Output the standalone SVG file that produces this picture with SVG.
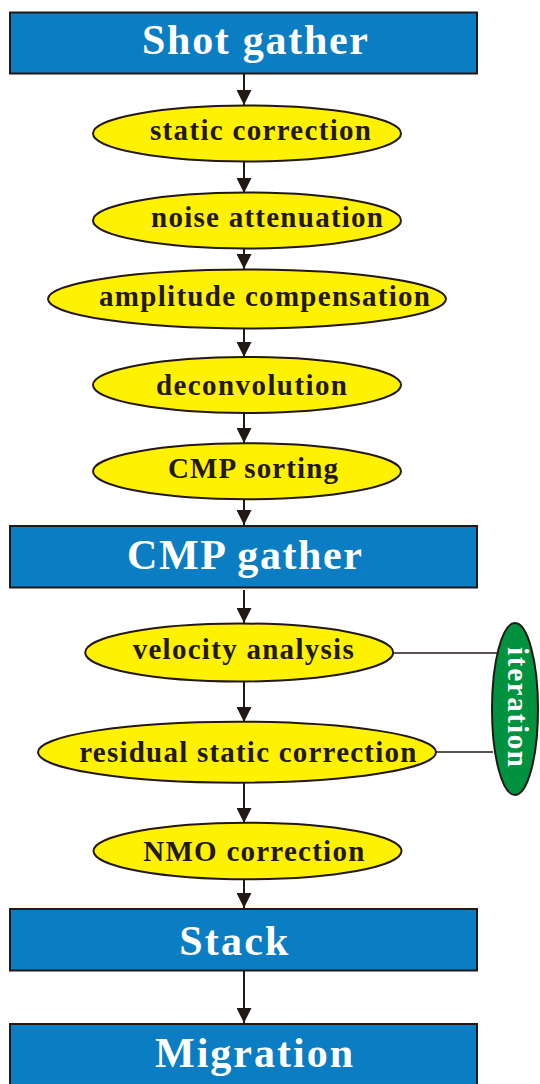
<svg xmlns="http://www.w3.org/2000/svg" width="540" height="1084" viewBox="0 0 540 1084">
  <style>
    .box { fill: #0a7dc3; stroke: #231815; stroke-width: 2; }
    .step { fill: #fff200; stroke: #231815; stroke-width: 2; }
    .loop { fill: #00923f; stroke: #231815; stroke-width: 2; }
    .boxText { font-family: "Liberation Serif", "Times New Roman", serif; font-weight: bold; font-size: 42px; fill: #ffffff; }
    .stepText { font-family: "Liberation Serif", "Times New Roman", serif; font-weight: bold; font-size: 29px; fill: #231815; }
    .loopText { font-family: "Liberation Serif", "Times New Roman", serif; font-weight: bold; font-size: 29px; fill: #ffffff; }
    .flow { fill: none; stroke: #231815; stroke-width: 2; marker-end: url(#arrow); }
    .tie { fill: none; stroke: #231815; stroke-width: 1.5; }
  </style>
  <defs>
    <marker id="arrow" viewBox="0 0 15 15" refX="15" refY="7.5" markerWidth="15" markerHeight="15" markerUnits="userSpaceOnUse" orient="auto">
      <path d="M0,0 L15,7.5 L0,15 Z" fill="#231815"/>
    </marker>
  </defs>

  <rect width="540" height="1084" fill="#ffffff"/>

  <!-- connectors -->
  <g id="connectors">
    <path class="flow" d="M244,74 V105"/>
    <path class="flow" d="M244,162 V193"/>
    <path class="flow" d="M244,248 V269"/>
    <path class="flow" d="M244,328 V357"/>
    <path class="flow" d="M244,413 V443"/>
    <path class="flow" d="M244,499 V525"/>
    <path class="flow" d="M244,590 V623"/>
    <path class="flow" d="M244,682 V722"/>
    <path class="flow" d="M244,783 V823"/>
    <path class="flow" d="M244,880 V908"/>
    <path class="flow" d="M244,971 V1023"/>
    <path class="tie" d="M393,653 H497"/>
    <path class="tie" d="M436,752 H493"/>
  </g>

  <g id="shot-gather">
    <rect class="box" x="10" y="12.5" width="467" height="61"/>
    <text class="boxText" x="142" y="54" textLength="226" lengthAdjust="spacing">Shot gather</text>
  </g>

  <g id="static-correction">
    <ellipse class="step" cx="247" cy="133.5" rx="154" ry="28"/>
    <text class="stepText" x="150" y="139.5" textLength="221" lengthAdjust="spacing">static correction</text>
  </g>

  <g id="noise-attenuation">
    <ellipse class="step" cx="247" cy="220.5" rx="154" ry="28"/>
    <text class="stepText" x="151" y="226.5" textLength="232" lengthAdjust="spacing">noise attenuation</text>
  </g>

  <g id="amplitude-compensation">
    <ellipse class="step" cx="247" cy="299" rx="199" ry="29.5"/>
    <text class="stepText" x="99" y="306" textLength="331" lengthAdjust="spacing">amplitude compensation</text>
  </g>

  <g id="deconvolution">
    <ellipse class="step" cx="247" cy="385" rx="154" ry="28"/>
    <text class="stepText" x="156" y="395" textLength="191" lengthAdjust="spacing">deconvolution</text>
  </g>

  <g id="cmp-sorting">
    <ellipse class="step" cx="247" cy="471.3" rx="154" ry="28"/>
    <text class="stepText" x="168" y="478.3" textLength="170" lengthAdjust="spacing">CMP sorting</text>
  </g>

  <g id="cmp-gather">
    <rect class="box" x="10" y="526" width="467" height="61.5"/>
    <text class="boxText" x="127" y="569.3" textLength="235" lengthAdjust="spacing">CMP gather</text>
  </g>

  <g id="velocity-analysis">
    <ellipse class="step" cx="239.2" cy="652.5" rx="154" ry="29"/>
    <text class="stepText" x="132.7" y="659.3" textLength="221" lengthAdjust="spacing">velocity analysis</text>
  </g>

  <g id="residual-static-correction">
    <ellipse class="step" cx="237" cy="752.2" rx="199" ry="30.5"/>
    <text class="stepText" x="79.3" y="761.7" textLength="337" lengthAdjust="spacing">residual static correction</text>
  </g>

  <g id="iteration">
    <ellipse class="loop" cx="515" cy="709" rx="23" ry="86"/>
    <text class="loopText" transform="translate(508,647) rotate(90)" x="0" y="0" textLength="120" lengthAdjust="spacing">iteration</text>
  </g>

  <g id="nmo-correction">
    <ellipse class="step" cx="247.5" cy="851" rx="154" ry="28.3"/>
    <text class="stepText" x="143.3" y="861" textLength="221" lengthAdjust="spacing">NMO correction</text>
  </g>

  <g id="stack">
    <rect class="box" x="10" y="909" width="467" height="61.5"/>
    <text class="boxText" x="179.3" y="955" textLength="109" lengthAdjust="spacing">Stack</text>
  </g>

  <g id="migration">
    <rect class="box" x="10" y="1024" width="467" height="80"/>
    <text class="boxText" x="155" y="1066.7" textLength="198" lengthAdjust="spacing">Migration</text>
  </g>
</svg>
